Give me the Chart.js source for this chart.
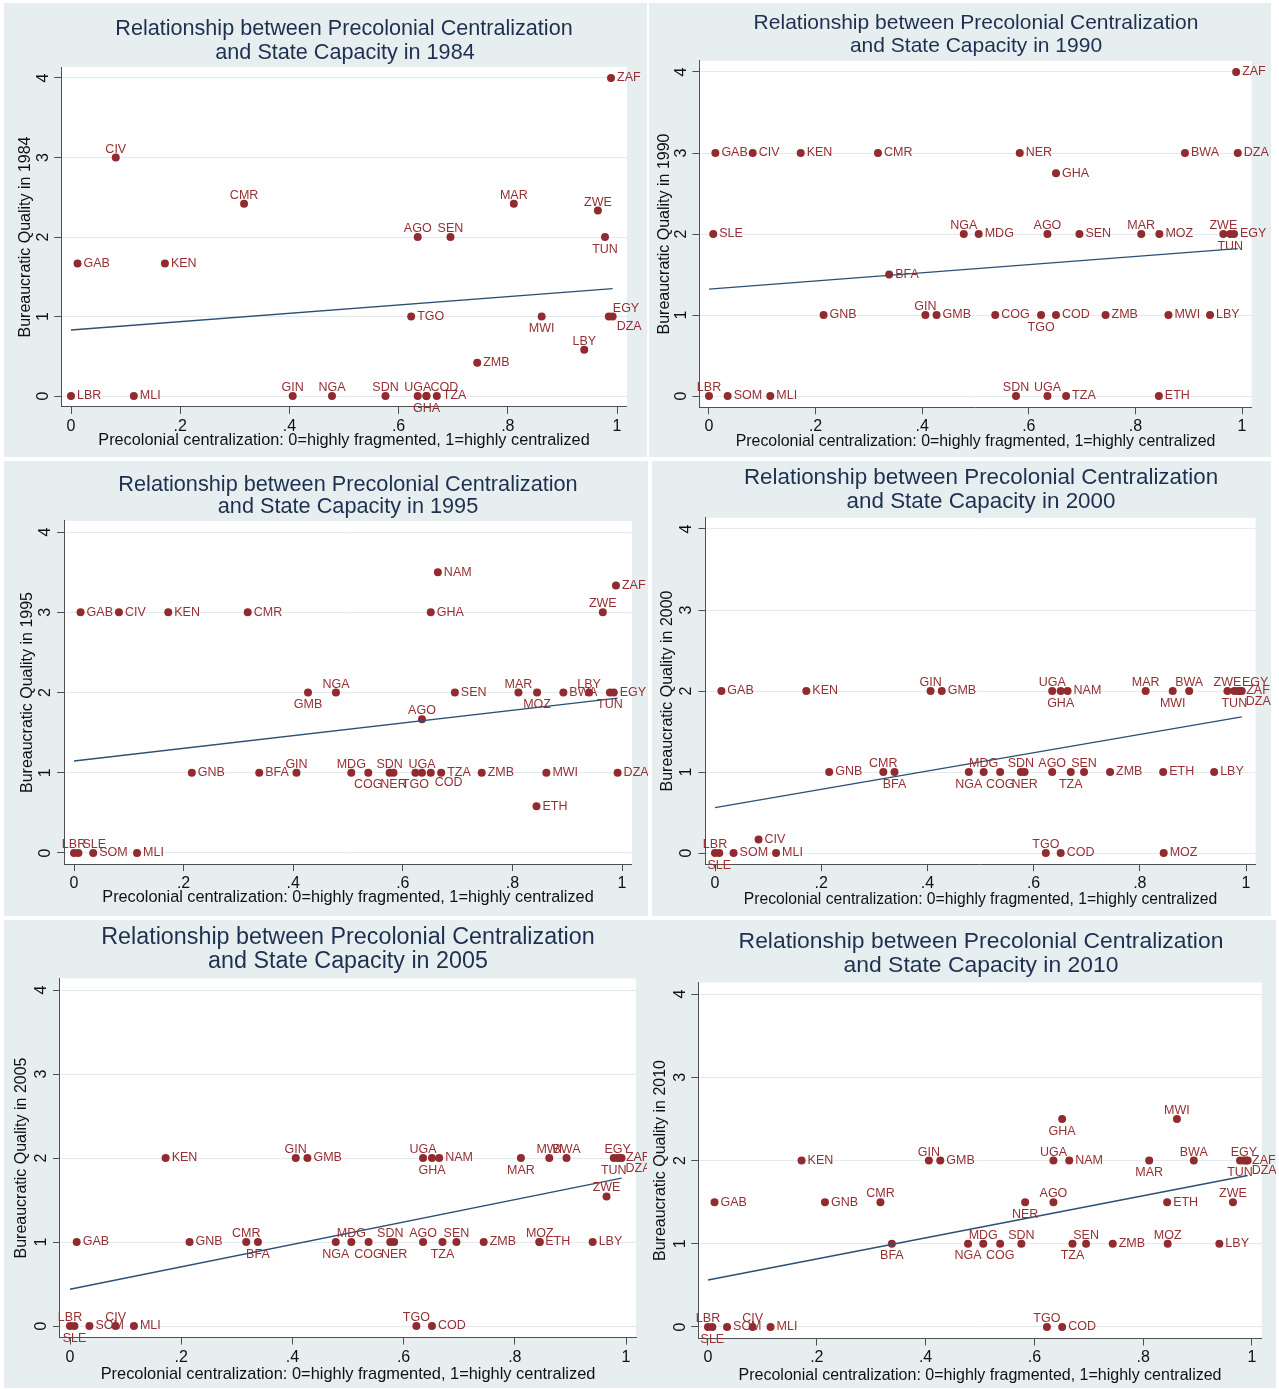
<!DOCTYPE html>
<html>
<head>
<meta charset="utf-8">
<script src="https://cdn.jsdelivr.net/npm/chart.js@4/dist/chart.umd.min.js"></script>
<style>
  html, body { margin: 0; padding: 0; background: #ffffff; width: 1279px; height: 1389px; overflow: hidden; }
  .panel { position: absolute; background: #E7EEF0; }
  canvas { display: block; }
</style>
</head>
<body>
<script>
// ---------------- DATA ----------------
const countries = ['LBR','SLE','GAB','SOM','CIV','MLI','KEN','GNB','CMR','BFA','GIN','GMB','NGA','MDG','COG','SDN','NER','TGO','AGO','UGA','GHA','COD','NAM','TZA','SEN','ZMB','MAR','ETH','MOZ','MWI','BWA','LBY','ZWE','TUN','EGY','ZAF','DZA'];
const centralization = [0.000,0.008,0.012,0.035,0.082,0.115,0.172,0.215,0.317,0.338,0.406,0.427,0.478,0.506,0.537,0.576,0.583,0.623,0.635,0.635,0.651,0.651,0.664,0.670,0.695,0.744,0.811,0.844,0.845,0.862,0.893,0.940,0.965,0.978,0.985,0.989,0.992];

const quality1984 = [0,null,1.667,null,3,0,1.667,null,2.417,null,0,null,0,null,null,0,null,1,2,0,0,0,null,0,2,0.417,2.417,null,null,1,null,0.583,2.333,2,1,4,1];
const quality1990 = [0,2,3,0,3,0,3,1,3,1.5,1,1,2,2,1,0,3,1,2,0,2.75,1,null,0,2,1,2,0,2,1,3,1,2,2,2,4,3];
const quality1995 = [0,0,3,0,3,0,3,1,3,1,1,2,2,1,1,1,1,1,1.667,1,3,1,3.5,1,2,1,2,0.583,2,1,2,2,3,2,2,3.333,1];
const quality2000 = [0,0,2,0,0.167,0,2,1,1,1,2,2,1,1,1,1,1,0,1,2,2,0,2,1,1,1,2,1,0,2,2,1,2,2,2,2,2];
const quality2005 = [0,0,1,0,0,0,2,1,1,1,2,2,1,1,1,1,1,0,1,2,2,0,2,1,1,1,2,1,1,2,2,1,1.542,2,2,2,2];
const quality2010 = [0,0,1.5,0,0,0,2,1.5,1.5,1,2,2,1,1,1,1,1.5,0,1.5,2,2.5,0,2,1,1,1,2,1.5,1,2.5,2,1,1.5,2,2,2,2];

// marker-label clock positions (r=3, l=9, t=12, b=6, tr=1-2, br=4-5)
const labelPos1984 = ['r','','r','','t','r','r','','t','','t','','t','','','t','','r','t','t','b','tr','','r','t','r','t','','','b','','t','t','b','tr','r','br'];
const labelPos1990 = ['t','r','r','r','r','r','r','r','r','r','t','r','t','r','r','t','r','b','t','t','r','r','','r','r','r','t','r','r','r','r','r','t','b','r','r','r'];
const labelPos1995 = ['t','tr','r','r','r','r','r','r','r','r','t','b','t','t','b','t','b','b','t','t','r','br','r','r','r','r','t','r','b','r','r','t','t','b','r','r','r'];
const labelPos2000 = ['t','b','r','r','r','r','r','r','t','b','t','r','b','t','b','t','b','t','t','t','b','r','r','b','t','r','t','r','r','b','t','r','t','b','tr','r','br'];
const labelPos2005 = ['t','b','r','r','t','r','r','r','t','b','t','r','b','t','b','t','b','t','t','t','b','r','r','b','t','r','b','r','t','t','t','r','t','b','t','r','br'];
const labelPos2010 = ['t','b','r','r','t','r','r','r','t','b','t','r','b','t','b','t','b','t','t','t','b','r','r','b','t','r','b','r','t','t','t','r','t','b','t','r','br'];

const years = ['1984','1990','1995','2000','2005','2010'];
const qualityByYear = [quality1984, quality1990, quality1995, quality2000, quality2005, quality2010];
const labelPosByYear = [labelPos1984, labelPos1990, labelPos1995, labelPos2000, labelPos2005, labelPos2010];

// linear fit lines (value at x = fitRange[0] and at x = fitRange[1])
const fitRange = [0, 0.992];
const fitStart = [0.83, 1.32, 1.146, 0.56, 0.437, 0.565];
const fitEnd   = [1.35, 1.82, 1.93, 1.68, 1.76, 1.82];

const xTickValues = [0, 0.2, 0.4, 0.6, 0.8, 1];
const xTickLabels = ['0', '.2', '.4', '.6', '.8', '1'];
const yTickValues = [0, 1, 2, 3, 4];
const yTickLabels = ['0', '1', '2', '3', '4'];

const titleLine1 = 'Relationship between Precolonial Centralization';
const titleLine2Prefix = 'and State Capacity in ';
const xAxisTitle = 'Precolonial centralization: 0=highly fragmented, 1=highly centralized';
const yAxisTitlePrefix = 'Bureaucratic Quality in ';

// ---------------- LAYOUT (page pixels) ----------------
const layoutSpec = [
  {box:[4,3,647,457],    x0:71,  x1:617,  y0:396,  y4:78,  yTitleX:26,  xTitleY:441,  t1:[344,29],  t2:[345,53],  yLabX:44,  titleSize:21.6, xTitleSize:16.3},
  {box:[649,3,1271,457], x0:709, x1:1242, y0:396,  y4:72,  yTitleX:665, xTitleY:442,  t1:[976,23],  t2:[976,46],  yLabX:682, titleSize:21.0, xTitleSize:15.9},
  {box:[4,461,648,916],  x0:74,  x1:622,  y0:853,  y4:532, yTitleX:28,  xTitleY:898,  t1:[348,485], t2:[348,507], yLabX:46,  titleSize:21.7, xTitleSize:16.3},
  {box:[652,461,1271,916], x0:715, x1:1246, y0:853,  y4:529, yTitleX:668, xTitleY:900,  t1:[981,478], t2:[981,502], yLabX:687, titleSize:22.4, xTitleSize:15.7},
  {box:[4,920,647,1388], x0:70,  x1:626,  y0:1326, y4:990, yTitleX:22,  xTitleY:1374, t1:[348,938], t2:[348,962], yLabX:42,  titleSize:23.3, xTitleSize:16.4},
  {box:[647,920,1276,1388], x0:708, x1:1252, y0:1327, y4:994, yTitleX:661, xTitleY:1376, t1:[981,942], t2:[981,966], yLabX:681, titleSize:22.9, xTitleSize:16.0}
];

const X_MIN = -0.018, X_MAX = 1.018, Y_MIN = -0.138, Y_MAX = 4.138;
const FONT = '"Liberation Sans", Arial, Helvetica, sans-serif';
const TICK_FONT = 16, AXIS_TITLE_SIZE = 16, LABEL_FONT = 12.5, TICK_LEN = 7;
const TITLE_COLOR = '#1E3050';
const MARKER_COLOR = '#922B2F';
const LABEL_COLOR = '#962F33';
const FIT_COLOR = '#2C4F74';
const AXIS_COLOR = '#505050';
const GRID_COLOR = '#E2EAED';

Chart.defaults.font.family = FONT;

const measureCtx = document.createElement('canvas').getContext('2d');
measureCtx.font = TICK_FONT + 'px ' + FONT;
const digitW = measureCtx.measureText('0').width;

const panelPlugin = {
  id: 'panelDecor',
  beforeDraw(chart, args, o) {
    const {ctx, chartArea: a} = chart;
    ctx.save();
    ctx.fillStyle = '#ffffff';
    ctx.fillRect(a.left, a.top, a.right - a.left, a.bottom - a.top);
    ctx.fillStyle = TITLE_COLOR;
    ctx.textAlign = 'center';
    ctx.textBaseline = 'middle';
    ctx.font = o.titleSize + 'px ' + FONT;
    ctx.fillText(o.line1, o.t1[0], o.t1[1]);
    ctx.fillText(o.line2, o.t2[0], o.t2[1]);
    ctx.restore();
  },
  afterDatasetsDraw(chart) {
    const {ctx} = chart;
    const ds = chart.data.datasets[0];
    const meta = chart.getDatasetMeta(0);
    ctx.save();
    ctx.font = LABEL_FONT + 'px ' + FONT;
    ctx.fillStyle = LABEL_COLOR;
    meta.data.forEach((el, k) => {
      const d = ds.data[k];
      const {x, y} = el.getProps(['x', 'y'], true);
      let tx = x, ty = y;
      switch (d.pos) {
        case 't':  ctx.textAlign = 'center'; ctx.textBaseline = 'alphabetic'; ty = y - 5; break;
        case 'b':  ctx.textAlign = 'center'; ctx.textBaseline = 'top'; ty = y + 6; break;
        case 'l':  ctx.textAlign = 'right'; ctx.textBaseline = 'middle'; tx = x - 6; break;
        case 'tr': ctx.textAlign = 'left'; ctx.textBaseline = 'alphabetic'; tx = x + 4; ty = y - 5; break;
        case 'br': ctx.textAlign = 'left'; ctx.textBaseline = 'top'; tx = x + 4; ty = y + 4; break;
        default:   ctx.textAlign = 'left'; ctx.textBaseline = 'middle'; tx = x + 6; break;
      }
      ctx.fillText(d.code, tx, ty);
    });
    ctx.restore();
  }
};

function buildPanel(i) {
  const L = layoutSpec[i];
  const [bl, bt, br, bb] = L.box;
  const W = br - bl, H = bb - bt;
  const S = L.x1 - L.x0, U = (L.y0 - L.y4) / 4;
  const cl = L.x0 + X_MIN * S - bl;
  const cr = L.x0 + X_MAX * S - bl;
  const ct = L.y0 - Y_MAX * U - bt;
  const cb = L.y0 - Y_MIN * U - bt;
  const yTitleLH = AXIS_TITLE_SIZE * 1.2;
  const padLeft = (L.yTitleX - bl) - yTitleLH / 2;
  const yAxisW = cl - padLeft;
  const xTitleLH = L.xTitleSize * 1.2;
  const xAxisH = (L.xTitleY - bt) + xTitleLH / 2 - cb;
  const padBottom = H - cb - xAxisH;
  const padRight = W - cr;
  const padTop = ct;
  const yTickPad = cl - (L.yLabX - bl) - TICK_LEN - digitW / 2;

  const div = document.createElement('div');
  div.className = 'panel';
  div.style.left = bl + 'px'; div.style.top = bt + 'px';
  div.style.width = W + 'px'; div.style.height = H + 'px';
  const canvas = document.createElement('canvas');
  canvas.width = W; canvas.height = H;
  div.appendChild(canvas);
  document.body.appendChild(div);

  const q = qualityByYear[i], lp = labelPosByYear[i];
  const points = [];
  countries.forEach((c, k) => {
    if (q[k] !== null) points.push({x: centralization[k], y: q[k], code: c, pos: lp[k]});
  });

  new Chart(canvas.getContext('2d'), {
    type: 'scatter',
    data: {
      datasets: [
        { type: 'scatter', data: points, pointRadius: 4, pointHoverRadius: 4,
          pointBackgroundColor: MARKER_COLOR, pointBorderWidth: 0, pointBorderColor: MARKER_COLOR, order: 2 },
        { type: 'line', data: [{x: fitRange[0], y: fitStart[i]}, {x: fitRange[1], y: fitEnd[i]}],
          borderColor: FIT_COLOR, borderWidth: 1.4, pointRadius: 0, fill: false, tension: 0, order: 1 }
      ]
    },
    options: {
      responsive: false,
      animation: false,
      devicePixelRatio: 1,
      layout: { autoPadding: false, padding: { left: padLeft, right: padRight, top: padTop, bottom: padBottom } },
      plugins: {
        legend: { display: false },
        tooltip: { enabled: false },
        panelDecor: {
          line1: titleLine1, line2: titleLine2Prefix + years[i], titleSize: L.titleSize,
          t1: [L.t1[0] - bl, L.t1[1] - bt], t2: [L.t2[0] - bl, L.t2[1] - bt]
        }
      },
      scales: {
        x: {
          type: 'linear', min: X_MIN, max: X_MAX,
          afterBuildTicks: s => { s.ticks = xTickValues.map(v => ({value: v})); },
          afterFit: s => { s.height = xAxisH; },
          ticks: { callback: (v, idx) => xTickLabels[idx], font: {size: TICK_FONT}, color: '#111', padding: 3, maxRotation: 0, minRotation: 0, autoSkip: false },
          grid: { drawOnChartArea: false, drawTicks: true, tickLength: TICK_LEN, tickColor: AXIS_COLOR, tickWidth: 1 },
          border: { display: true, color: AXIS_COLOR, width: 1 },
          title: { display: true, text: xAxisTitle, font: {size: L.xTitleSize}, color: '#111', padding: 0 }
        },
        y: {
          type: 'linear', min: Y_MIN, max: Y_MAX,
          afterBuildTicks: s => { s.ticks = yTickValues.map(v => ({value: v})); },
          afterFit: s => { s.width = yAxisW; },
          ticks: { callback: (v, idx) => yTickLabels[idx], font: {size: TICK_FONT}, color: '#111', padding: yTickPad,
                   minRotation: 90, maxRotation: 90, crossAlign: 'center', autoSkip: false },
          grid: { color: GRID_COLOR, lineWidth: 1, drawTicks: true, tickLength: TICK_LEN, tickColor: AXIS_COLOR, tickWidth: 1 },
          border: { display: true, color: AXIS_COLOR, width: 1 },
          title: { display: true, text: yAxisTitlePrefix + years[i], font: {size: AXIS_TITLE_SIZE}, color: '#111', padding: 0 }
        }
      }
    },
    plugins: [panelPlugin]
  });
}

for (let i = 0; i < years.length; i++) buildPanel(i);
</script>
</body>
</html>
